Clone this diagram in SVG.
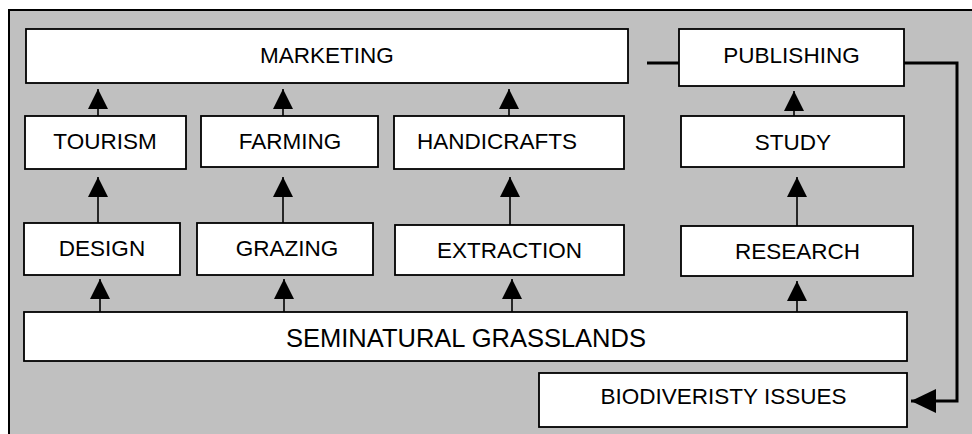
<svg xmlns="http://www.w3.org/2000/svg" width="972" height="434" viewBox="0 0 972 434">
<style>
.box{fill:#fff;stroke:#000;stroke-width:1.8}
.t{font-family:"Liberation Sans",Arial,sans-serif;font-size:22.5px;fill:#000;text-anchor:middle}
.big{font-size:25.5px}
.c{fill:none;stroke:#000;stroke-width:1.6}
.thick{fill:none;stroke:#000;stroke-width:3}
</style>
<defs>
<marker id="ah" viewBox="0 0 20 20" refX="20" refY="10" markerWidth="20" markerHeight="20" markerUnits="userSpaceOnUse" orient="auto">
<path d="M0,0 L20,10 L0,20 Z" fill="#000"/>
</marker>
<marker id="ahBig" viewBox="0 0 25 24" refX="25" refY="12" markerWidth="25" markerHeight="24" markerUnits="userSpaceOnUse" orient="auto">
<path d="M0,0 L25,12 L0,24 Z" fill="#000"/>
</marker>
</defs>
<rect x="0" y="0" width="972" height="434" fill="#fff"/>
<rect x="9" y="10" width="1000" height="500" fill="#c0c0c0" stroke="#000" stroke-width="2"/>

<g id="connectors">
<line class="c" x1="98" y1="116" x2="98" y2="89" marker-end="url(#ah)"/>
<line class="c" x1="283" y1="116" x2="283" y2="89" marker-end="url(#ah)"/>
<line class="c" x1="509" y1="116" x2="509" y2="89" marker-end="url(#ah)"/>
<line class="c" x1="794" y1="116" x2="794" y2="91" marker-end="url(#ah)"/>
<line class="c" x1="98" y1="223" x2="98" y2="177" marker-end="url(#ah)"/>
<line class="c" x1="283" y1="223" x2="283" y2="177" marker-end="url(#ah)"/>
<line class="c" x1="510" y1="225" x2="510" y2="177" marker-end="url(#ah)"/>
<line class="c" x1="797" y1="226" x2="797" y2="177" marker-end="url(#ah)"/>
<line class="c" x1="100" y1="312" x2="100" y2="279" marker-end="url(#ah)"/>
<line class="c" x1="284" y1="312" x2="284" y2="279" marker-end="url(#ah)"/>
<line class="c" x1="512" y1="312" x2="512" y2="279" marker-end="url(#ah)"/>
<line class="c" x1="797" y1="312" x2="797" y2="281" marker-end="url(#ah)"/>
<line class="thick" x1="647" y1="63" x2="679" y2="63"/>
<path class="thick" d="M904,63 H957 V401 H911" marker-end="url(#ahBig)"/>
</g>

<g id="marketing"><rect class="box" x="26" y="29" width="602" height="54"/><text class="t" x="327" y="63">MARKETING</text></g>
<g id="publishing"><rect class="box" x="679" y="29" width="225" height="57"/><text class="t" x="791.5" y="63">PUBLISHING</text></g>
<g id="tourism"><rect class="box" x="25" y="116" width="161" height="53"/><text class="t" x="105" y="149">TOURISM</text></g>
<g id="farming"><rect class="box" x="201" y="116" width="177" height="51"/><text class="t" x="290" y="149">FARMING</text></g>
<g id="handicrafts"><rect class="box" x="394" y="116" width="230" height="53"/><text class="t" x="497" y="149">HANDICRAFTS</text></g>
<g id="study"><rect class="box" x="681" y="116" width="223" height="51"/><text class="t" x="793" y="150">STUDY</text></g>
<g id="design"><rect class="box" x="24" y="223" width="156" height="52"/><text class="t" x="102" y="256">DESIGN</text></g>
<g id="grazing"><rect class="box" x="197" y="223" width="176" height="52"/><text class="t" x="287" y="256">GRAZING</text></g>
<g id="extraction"><rect class="box" x="395" y="225" width="229" height="50"/><text class="t" x="509.5" y="258">EXTRACTION</text></g>
<g id="research"><rect class="box" x="681" y="226" width="232" height="50"/><text class="t" x="797.5" y="259">RESEARCH</text></g>
<g id="grasslands"><rect class="box" x="24" y="312" width="883" height="49"/><text class="t big" x="466" y="347">SEMINATURAL GRASSLANDS</text></g>
<g id="biodiversity"><rect class="box" x="539" y="373" width="368" height="54"/><text class="t" x="723.5" y="404">BIODIVERISTY ISSUES</text></g>
</svg>
